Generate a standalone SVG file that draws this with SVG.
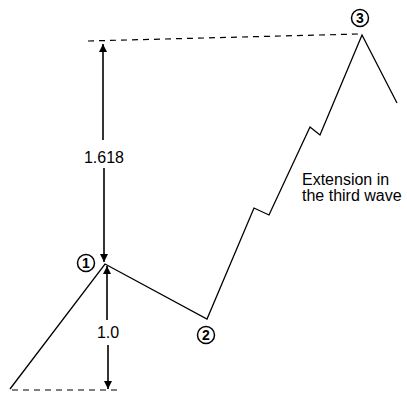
<svg xmlns="http://www.w3.org/2000/svg" width="407" height="395" viewBox="0 0 407 395">
<style>
.ln{fill:none;stroke:#000;stroke-width:1.3}
.ds{fill:none;stroke:#000;stroke-width:1.2;stroke-dasharray:6 5}
.ar{fill:none;stroke:#000;stroke-width:1.6}
.t{font-family:"Liberation Sans",Arial,sans-serif;fill:#000}
.d{font-family:"Liberation Sans",Arial,sans-serif;fill:#000;font-size:14px;font-weight:bold;text-anchor:middle}
.c{fill:#fff;stroke:#000;stroke-width:1.5}
</style>
<defs>
<marker id="a" viewBox="0 0 10 10" refX="10" refY="5" markerWidth="14" markerHeight="8" orient="auto" markerUnits="userSpaceOnUse">
<path d="M0,0 L10,5 L0,10 Z" fill="#000"/>
</marker>
</defs>
<g id="connectors">
<path class="ln" d="M10,389 L105,264 L207,319 L254,208 L269,215 L310,127 L320,135 L362,35 L397,103"/>
<path class="ds" d="M88,41 L358,34"/>
<path class="ds" d="M12,390 L122,390"/>
<path class="ar" d="M103,140 L103,44" marker-end="url(#a)"/>
<path class="ar" d="M104,168 L104,262" marker-end="url(#a)"/>
<path class="ar" d="M107,320 L107,266" marker-end="url(#a)"/>
<path class="ar" d="M108,345 L108,389" marker-end="url(#a)"/>
</g>
<g id="label-1618"><text class="t" x="104" y="163" font-size="16" text-anchor="middle">1.618</text></g>
<g id="label-10"><text class="t" x="108" y="338" font-size="16" text-anchor="middle">1.0</text></g>
<g id="wave1"><circle class="c" cx="86" cy="263" r="8.5"/><text class="d" x="86" y="268">1</text></g>
<g id="wave2"><circle class="c" cx="206" cy="335" r="8.5"/><text class="d" x="206" y="340">2</text></g>
<g id="wave3"><circle class="c" cx="360" cy="18" r="8.5"/><text class="d" x="360" y="23">3</text></g>
<g id="note"><text class="t" font-size="16"><tspan x="302" y="185">Extension in</tspan><tspan x="302" y="201">the third wave</tspan></text></g>
</svg>
